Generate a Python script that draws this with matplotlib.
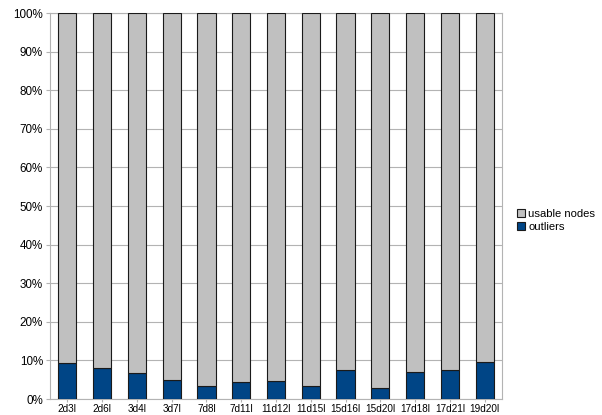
import matplotlib
matplotlib.use("Agg")
import matplotlib.pyplot as plt
import numpy as np

categories = ["2d3l", "2d6l", "3d4l", "3d7l", "7d8l", "7d11l", "11d12l",
              "11d15l", "15d16l", "15d20l", "17d18l", "17d21l", "19d20l"]
outliers = [9.4, 8.1, 6.7, 5.0, 3.4, 4.3, 4.7, 3.3, 7.4, 2.8, 6.9, 7.6, 9.5]
usable = [100 - v for v in outliers]
yticks = list(range(0, 101, 10))

plt.rcParams['font.family'] = ['Liberation Sans', 'DejaVu Sans']

fig = plt.figure(figsize=(6.02, 4.15), dpi=100)
ax = fig.add_axes([50/602, 16/415, 452/602, 386/415])

x = np.arange(len(categories))
w = 0.52
ax.bar(x, outliers, w, color="#004586", edgecolor="#1a1a1a", linewidth=0.8,
       label="outliers", zorder=3)
ax.bar(x, usable, w, bottom=outliers, color="#c0c0c0", edgecolor="#1a1a1a",
       linewidth=0.8, label="usable nodes", zorder=3)

ax.set_xlim(-0.5, len(categories) - 0.5)
ax.set_ylim(0, 100)
ax.set_yticks(yticks)
ax.set_yticklabels([f"{t}%" for t in yticks])
ax.set_xticks(x)
ax.set_xticklabels(categories)
ax.tick_params(axis="y", labelsize=8.4, color="#b3b3b3", length=3, width=0.8,
               pad=2, labelcolor="#000000")
ax.tick_params(axis="x", labelsize=7.2, color="#b3b3b3", length=2, width=0.8,
               pad=1.5, labelcolor="#000000")
ax.yaxis.grid(True, color="#b3b3b3", linewidth=0.8, zorder=0)
for s in ax.spines.values():
    s.set_color("#b3b3b3")
    s.set_linewidth(0.8)

handles, labels = ax.get_legend_handles_labels()
fig.legend(handles[::-1], labels[::-1], loc="upper left",
           bbox_to_anchor=(511/602, 1 - 203/415), frameon=False, fontsize=8.1,
           handlelength=0.75, handleheight=0.75, handletextpad=0.3,
           labelspacing=0.3, borderpad=0)

fig.savefig("out.png", dpi=100)
